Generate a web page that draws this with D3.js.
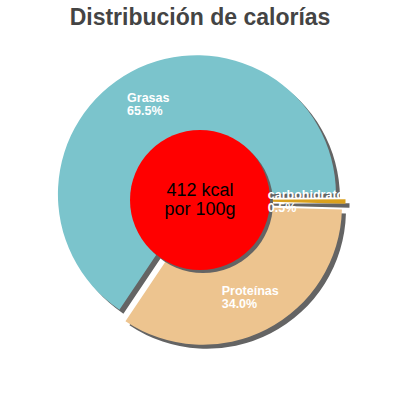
<!DOCTYPE html>
<html>
<head>
<meta charset="utf-8">
<script src="https://cdn.jsdelivr.net/npm/d3@7"></script>
<style>
  body { margin: 0; background: #fff; }
  svg { display: block; }
</style>
</head>
<body>
<svg id="chart" width="400" height="400"></svg>
<script>
// data
const categories = ["Grasas", "carbohidratos", "Proteínas"];
const percents = [65.5, 0.5, 34.0];
const colors = ["#7bc4cc", "#daa11e", "#edc48f"];
const title = "Distribución de calorías";
const centerLines = ["412 kcal", "por 100g"];

const width = 400, height = 400;
const cx = 200, cy = 200;
const outerR = 139;
const innerCircleR = 70;
const slicedOffset = 6.5;
const labelR = 103;
const shadowDx = 4, shadowDy = 4;
const startDeg = 213.9;

const svg = d3.select("#chart");

svg.append("text")
    .attr("x", width / 2)
    .attr("y", 25)
    .attr("text-anchor", "middle")
    .style("font-family", "'Liberation Sans', Arial, sans-serif")
    .style("font-size", "23px")
    .style("font-weight", "bold")
    .style("fill", "#444")
    .text(title);

const data = categories.map((c, i) => ({ name: c, value: percents[i], color: colors[i] }));

const pie = d3.pie()
    .value(d => d.value)
    .sort(null)
    .startAngle(startDeg * Math.PI / 180)
    .endAngle((startDeg + 360) * Math.PI / 180);

const arcs = pie(data);
const arc = d3.arc().innerRadius(0).outerRadius(outerR);
const labelArc = d3.arc().innerRadius(labelR).outerRadius(labelR);

// offset each slice outwards along its mid angle
function offsetOf(d) {
    const m = (d.startAngle + d.endAngle) / 2;
    return [slicedOffset * Math.sin(m), -slicedOffset * Math.cos(m)];
}

const g = svg.append("g").attr("transform", `translate(${cx},${cy})`);

arcs.forEach(d => {
    const [ox, oy] = offsetOf(d);
    const s = g.append("g").attr("transform", `translate(${ox},${oy})`);
    s.append("path")
        .attr("d", arc(d))
        .attr("transform", `translate(${shadowDx},${shadowDy})`)
        .attr("fill", "#646464");
    s.append("path")
        .attr("d", arc(d))
        .attr("fill", d.data.color);
});

// red centre disc with its shadow
g.append("circle")
    .attr("cx", shadowDx - 1)
    .attr("cy", shadowDy - 1)
    .attr("r", innerCircleR)
    .attr("fill", "#646464");
g.append("circle")
    .attr("r", innerCircleR)
    .attr("fill", "#ff0000");

const center = g.append("text")
    .attr("text-anchor", "middle")
    .style("font-family", "'Liberation Sans', Arial, sans-serif")
    .style("font-size", "18px")
    .style("fill", "#000");
centerLines.forEach((t, i) => {
    center.append("tspan")
        .attr("x", 0)
        .attr("y", -4 + i * 18.5)
        .text(t);
});

// slice labels, clipped like the original
svg.append("clipPath").attr("id", "lblclip")
    .append("rect").attr("x", 0).attr("y", 0).attr("width", 340).attr("height", height);

const labels = svg.append("g")
    .attr("clip-path", "url(#lblclip)")
    .append("g")
    .attr("transform", `translate(${cx},${cy})`);

const lineGap = 13;
arcs.forEach(d => {
    const [ox, oy] = offsetOf(d);
    const [lx, ly] = labelArc.centroid(d);
    const t = labels.append("text")
        .style("font-family", "'Liberation Sans', Arial, sans-serif")
        .style("font-size", "12.5px")
        .style("font-weight", "bold")
        .style("fill", "#fff");
    const lines = [d.data.name, d.data.value.toFixed(1) + "%"];
    const spans = lines.map(s => t.append("tspan").text(s));
    const w = d3.max(spans, s => s.node().getComputedTextLength());
    const left = ox + lx - w / 2;
    const top = oy + ly - 2;
    spans.forEach((s, i) => s.attr("x", left).attr("y", top + i * lineGap));
});
</script>
</body>
</html>
